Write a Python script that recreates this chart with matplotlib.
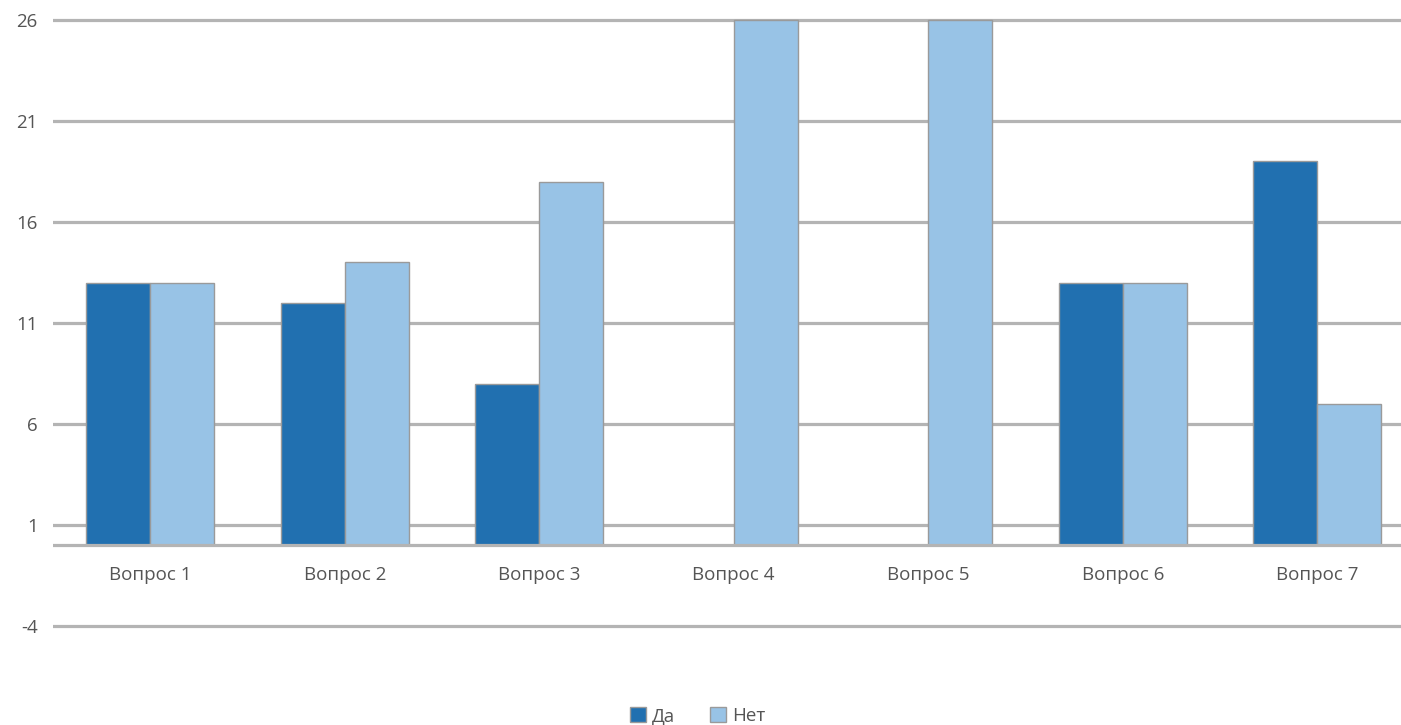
import matplotlib.pyplot as plt
import numpy as np

plt.rcParams['font.family'] = ['Open Sans', 'DejaVu Sans']

categories = ['Вопрос 1', 'Вопрос 2', 'Вопрос 3', 'Вопрос 4', 'Вопрос 5', 'Вопрос 6', 'Вопрос 7']
da = [13, 12, 8, 0, 0, 13, 19]
net = [13, 14, 18, 26, 26, 13, 7]
yticks = [-4, 1, 6, 11, 16, 21, 26]

W, H = 1401, 725
fig = plt.figure(figsize=(W / 100, H / 100), dpi=100)
# y: 26 at px 20, -4 at px 626; pad ylim by 0.2 to keep grid lines unclipped
ppu = (626 - 20) / 30
top = 20 - 0.2 * ppu
bot = 626 + 0.2 * ppu
ax = fig.add_axes([53 / W, 1 - bot / H, (W - 53) / W, (bot - top) / H])
ax.set_ylim(-4.2, 26.2)
ax.set_xlim(-0.5, -0.5 + (W - 53) / 194.5)

grid_c = '#b4b4b4'
for t in yticks:
    ax.axhline(t, color=grid_c, lw=2.3, zorder=0)
ax.axhline(0, color=grid_c, lw=2.3, zorder=3)

x = np.arange(len(categories))
bw = 64 / 194.5
ax.bar(x - bw / 2, da, bw, color='#2170b0', edgecolor='#9a9a9a', lw=1, label='Да', zorder=2)
ax.bar(x + bw / 2, net, bw, color='#98c3e6', edgecolor='#9a9a9a', lw=1, label='Нет', zorder=2)

for s in ax.spines.values():
    s.set_visible(False)
ax.set_xticks([])
ax.set_yticks(yticks)
ax.set_yticklabels([str(t) for t in yticks], fontsize=13.5, color='#555555')
ax.tick_params(axis='y', length=0, pad=11)

for i, c in enumerate(categories):
    ax.annotate(c, (i, 0), xytext=(0, -30), textcoords='offset pixels',
                ha='center', va='center', fontsize=13.5, color='#555555')

fig.legend(loc='center', bbox_to_anchor=(0.498, 1 - 716 / H), ncol=2, frameon=False,
           fontsize=13.5, labelcolor='#555555', handlelength=0.85, handleheight=0.85,
           handletextpad=0.3, columnspacing=1.9)

plt.savefig('out.png', dpi=100)
